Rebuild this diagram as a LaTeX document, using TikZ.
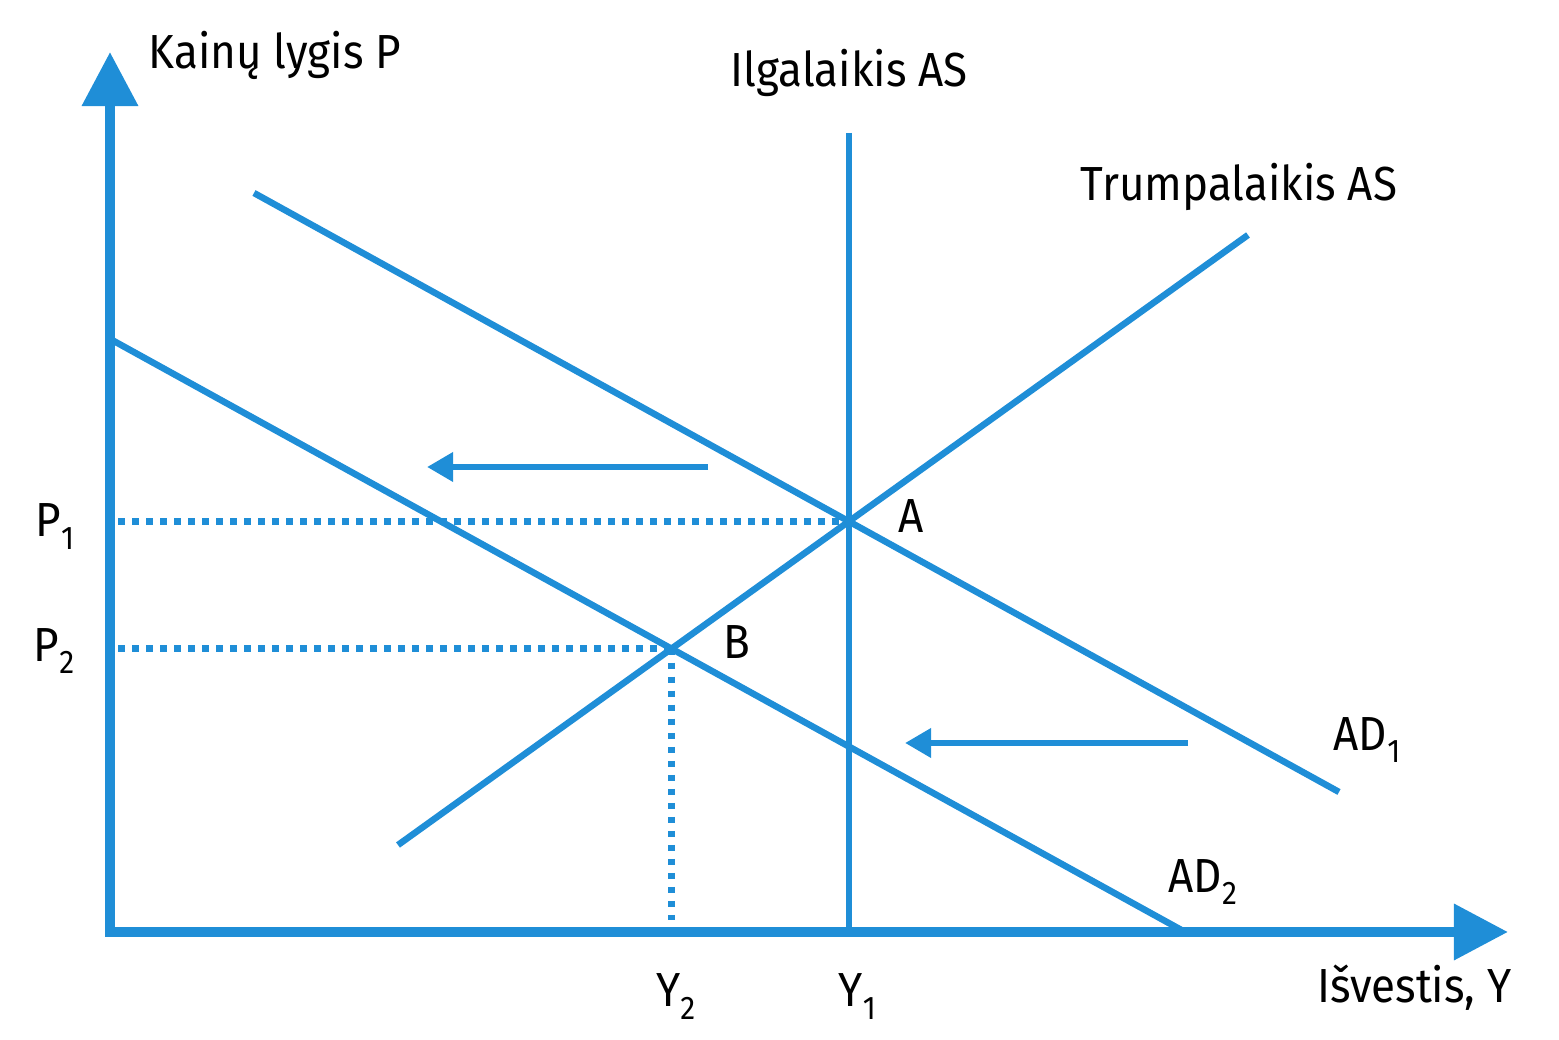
\documentclass[tikz,border=0pt]{standalone}
\usepackage{fontspec}
\setmainfont{Fira Sans}[FakeStretch=0.92]
\usepackage{xcolor}
\usepackage{tikz}
\usetikzlibrary{positioning}
\usetikzlibrary{arrows.meta}
\definecolor{asblue}{RGB}{31,142,215}
\newcommand{\sidx}[1]{\raisebox{-0.26em}{\fontsize{9.3pt}{10pt}\selectfont #1}}

\begin{document}
\begin{tikzpicture}[x=0.01cm,y=-0.01cm,
                    axis/.style={asblue,line width=0.1cm,
                      {Triangle[length=0.54cm,width=0.54cm]}-{Triangle[length=0.54cm,width=0.54cm]}},
                    curve/.style={asblue,line width=0.065cm},
                    guide/.style={asblue,line width=0.065cm,dash pattern=on 0.065cm off 0.075cm},
                    shiftarrow/.style={asblue,line width=0.065cm,-{Triangle[length=0.26cm,width=0.28cm]}},
                    lbl/.style={inner sep=0pt,text height=0.33cm,text depth=0pt,
                      font=\fontsize{13.6pt}{16pt}\selectfont}]
\useasboundingbox (0,0) rectangle (1559,1040);
\coordinate (O) at (110,932);
\coordinate (ytip) at (110,52);
\coordinate (xtip) at (1508,932);
\coordinate (lrtop) at (849,133);
\coordinate (lrbot) at (849,932);
\coordinate (sr1) at (398,845);
\coordinate (sr2) at (1248,235);
\coordinate (ad11) at (254,193);
\coordinate (ad12) at (1339,792);
\coordinate (ad21) at (112,340);
\coordinate (ad22) at (1185,932);
\coordinate (A) at (intersection of sr1--sr2 and ad11--ad12);
\coordinate (B) at (intersection of sr1--sr2 and ad21--ad22);
\coordinate (P1) at (O |- A);
\coordinate (P2) at (O |- B);
\coordinate (Y1) at (O -| A);
\coordinate (Y2) at (O -| B);
\coordinate (s1a) at (708,467);
\coordinate (s1b) at (427,467);
\coordinate (s2a) at (1188,743);
\coordinate (s2b) at (905,743);

\draw[guide,shorten <=0.08cm] (P1) -- (A);
\draw[guide,shorten <=0.08cm] (P2) -- (B);
\draw[guide,shorten >=0.12cm] (B) -- (Y2);
\draw[curve] (lrtop) -- (lrbot);
\draw[curve] (sr1) -- (sr2);
\draw[curve] (ad11) -- (ad12);
\draw[curve] (ad21) -- (ad22);
\draw[shiftarrow] (s1a) -- (s1b);
\draw[shiftarrow] (s2a) -- (s2b);
\draw[axis] (ytip) -- (O) -- (xtip);

\node[lbl,right=0.38cm of ytip] (ptitle) {Kainų lygis P};
\node[lbl,below left=0.37cm and -0.04cm of xtip] (ytitle) {Išvestis, Y};
\node[lbl,above=0.46cm of lrtop] (lrlbl) {Ilgalaikis AS};
\node[lbl,above=0.34cm of sr2,xshift=-0.09cm] (srlbl) {Trumpalaikis AS};
\node[lbl,above right=0.41cm and -0.06cm of ad12] (ad1lbl) {AD\sidx{1}};
\node[lbl,above right=0.39cm and -0.17cm of ad22] (ad2lbl) {AD\sidx{2}};
\node[lbl,right=0.49cm of A,yshift=0.05cm] (albl) {A};
\node[lbl,right=0.51cm of B,yshift=0.07cm] (blbl) {B};
\node[lbl,left=0.35cm of P1,yshift=0.01cm] (p1lbl) {P\sidx{1}};
\node[lbl,left=0.35cm of P2,yshift=0.04cm] (p2lbl) {P\sidx{2}};
\node[lbl,below right=0.41cm and -0.11cm of Y1] (y1lbl) {Y\sidx{1}};
\node[lbl,below right=0.41cm and -0.16cm of Y2] (y2lbl) {Y\sidx{2}};
\end{tikzpicture}
\end{document}
